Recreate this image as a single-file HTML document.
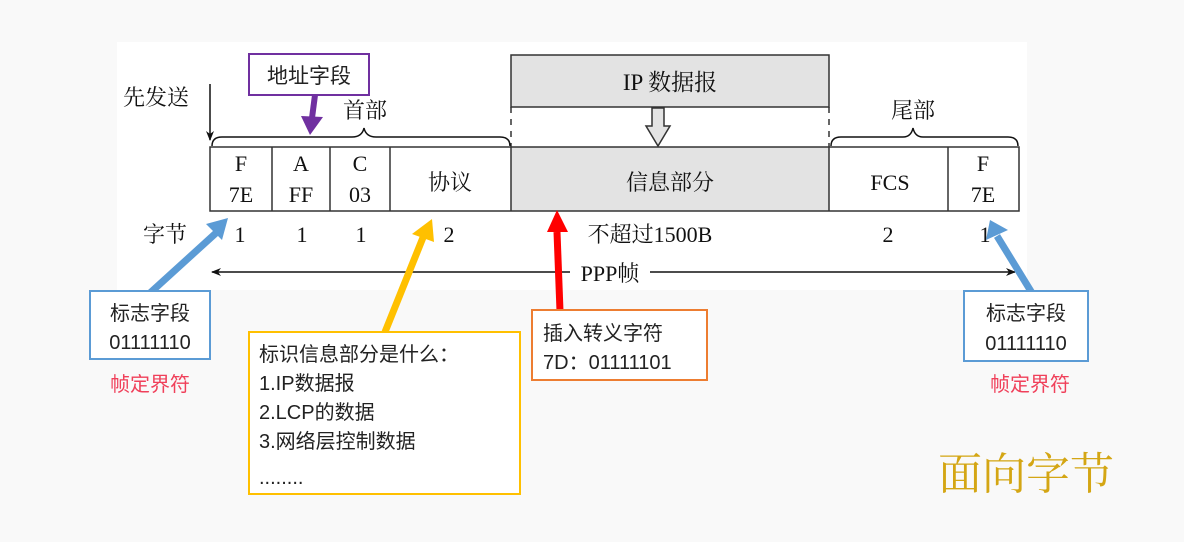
<!DOCTYPE html>
<html><head><meta charset="utf-8"><style>
body{margin:0;width:1184px;height:542px;background:#f9f9f9;overflow:hidden}
svg{display:block}
.s{font-family:"Liberation Serif","Noto Serif CJK SC",serif;fill:#111}
.c{font-family:"Liberation Sans","Noto Sans CJK SC",sans-serif;fill:#222}
</style></head><body>
<svg width="1184" height="542" viewBox="0 0 1184 542">
<defs>
<marker id="ah" markerWidth="10" markerHeight="8" refX="9" refY="4" orient="auto" markerUnits="userSpaceOnUse"><path d="M0,0 L10,4 L0,8 L3,4z" fill="#111"/></marker>
</defs>
<rect x="117" y="42" width="910" height="248" fill="#fff"/>
<rect x="511" y="55" width="318" height="52" fill="#e3e3e3" stroke="#333" stroke-width="1.5"/>
<text x="670" y="90" class="s" font-size="23" text-anchor="middle">IP 数据报</text>
<line x1="511" y1="107" x2="511" y2="147" stroke="#333" stroke-width="1.5" stroke-dasharray="6,6"/>
<line x1="829" y1="107" x2="829" y2="147" stroke="#333" stroke-width="1.5" stroke-dasharray="6,6"/>
<path d="M652,108 L664,108 L664,126 L670,126 L658,146 L646,126 L652,126 Z" fill="#e3e3e3" stroke="#333" stroke-width="1.5"/>
<rect x="511" y="147" width="318" height="64" fill="#e3e3e3"/>
<rect x="210" y="147" width="809" height="64" fill="none" stroke="#333" stroke-width="1.5"/>
<g stroke="#333" stroke-width="1.5">
<line x1="272" y1="147" x2="272" y2="211"/><line x1="330" y1="147" x2="330" y2="211"/>
<line x1="390" y1="147" x2="390" y2="211"/><line x1="511" y1="147" x2="511" y2="211"/>
<line x1="829" y1="147" x2="829" y2="211"/><line x1="948" y1="147" x2="948" y2="211"/>
</g>
<g class="s" font-size="22" text-anchor="middle">
<text x="241" y="171">F</text><text x="241" y="202">7E</text>
<text x="301" y="171">A</text><text x="301" y="202">FF</text>
<text x="360" y="171">C</text><text x="360" y="202">03</text>
<text x="450" y="190">协议</text>
<text x="670" y="190">信息部分</text>
<text x="890" y="190">FCS</text>
<text x="983" y="171">F</text><text x="983" y="202">7E</text>
<text x="165" y="242">字节</text>
<text x="240" y="242">1</text><text x="302" y="242">1</text><text x="361" y="242">1</text>
<text x="449" y="242">2</text><text x="650" y="242">不超过1500B</text>
<text x="888" y="242">2</text><text x="985" y="242">1</text>
<text x="365" y="118">首部</text><text x="913" y="118">尾部</text>
<text x="156" y="105">先发送</text>
<text x="610" y="281">PPP帧</text>
</g>
<path d="M212,146 Q212,137 222,137 L352,137 Q362,137 364,128 Q366,137 376,137 L500,137 Q510,137 510,146" fill="none" stroke="#111" stroke-width="1.5"/>
<path d="M831,146 Q831,137 841,137 L903,137 Q911,137 913,128 Q915,137 923,137 L1008,137 Q1018,137 1018,146" fill="none" stroke="#111" stroke-width="1.5"/>
<line x1="210" y1="84" x2="210" y2="140" stroke="#111" stroke-width="1.5" marker-end="url(#ah)"/>
<line x1="570" y1="272" x2="212" y2="272" stroke="#111" stroke-width="1.5" marker-end="url(#ah)"/>
<line x1="650" y1="272" x2="1015" y2="272" stroke="#111" stroke-width="1.5" marker-end="url(#ah)"/>
<rect x="249" y="54" width="120" height="41" fill="#fff" stroke="#7030a0" stroke-width="2"/>
<text x="309" y="83" class="c" font-size="21" text-anchor="middle">地址字段</text>
<line x1="315" y1="95" x2="312" y2="118" stroke="#7030a0" stroke-width="6"/>
<path d="M301,116 L323,117 L310,135 Z" fill="#7030a0"/>
<line x1="150" y1="293" x2="216" y2="233" stroke="#5b9bd5" stroke-width="7"/>
<path d="M206,224 L228,218 L222,240 Z" fill="#5b9bd5"/>
<rect x="90" y="291" width="120" height="68" fill="#fff" stroke="#5b9bd5" stroke-width="2"/>
<text x="150" y="320" class="c" font-size="20" text-anchor="middle">标志字段</text>
<text x="150" y="349" class="c" font-size="20" text-anchor="middle" fill="#111">01111110</text>
<text x="150" y="391" class="c" font-size="20" text-anchor="middle" style="fill:#f0405a">帧定界符</text>
<line x1="1032" y1="293" x2="997" y2="236" stroke="#5b9bd5" stroke-width="7"/>
<path d="M986,240 L1008,230 L990,220 Z" fill="#5b9bd5"/>
<rect x="964" y="291" width="124" height="70" fill="#fff" stroke="#5b9bd5" stroke-width="2"/>
<text x="1026" y="320" class="c" font-size="20" text-anchor="middle">标志字段</text>
<text x="1026" y="350" class="c" font-size="20" text-anchor="middle">01111110</text>
<text x="1030" y="391" class="c" font-size="20" text-anchor="middle" style="fill:#f0405a">帧定界符</text>
<line x1="385" y1="332" x2="424" y2="235" stroke="#ffc000" stroke-width="7"/>
<path d="M412,234 L432,219 L434,242 Z" fill="#ffc000"/>
<rect x="249" y="332" width="271" height="162" fill="#fff" stroke="#ffc000" stroke-width="2"/>
<g class="c" font-size="20"><text x="259" y="361">标识信息部分是什么：</text>
<text x="259" y="390">1.IP数据报</text><text x="259" y="419">2.LCP的数据</text>
<text x="259" y="448">3.网络层控制数据</text><text x="259" y="484">........</text></g>
<line x1="560" y1="311" x2="557" y2="232" stroke="#ff0000" stroke-width="7"/>
<path d="M547,232 L568,232 L557,210 Z" fill="#ff0000"/>
<rect x="532" y="310" width="175" height="70" fill="#fff" stroke="#ed7d31" stroke-width="2"/>
<text x="543" y="340" class="c" font-size="20">插入转义字符</text>
<text x="543" y="369" class="c" font-size="20">7D：01111101</text>
<text x="938" y="489" font-family="'Noto Serif CJK SC',serif" font-size="44" style="fill:#d4a614">面向字节</text>
</svg>
</body></html>
